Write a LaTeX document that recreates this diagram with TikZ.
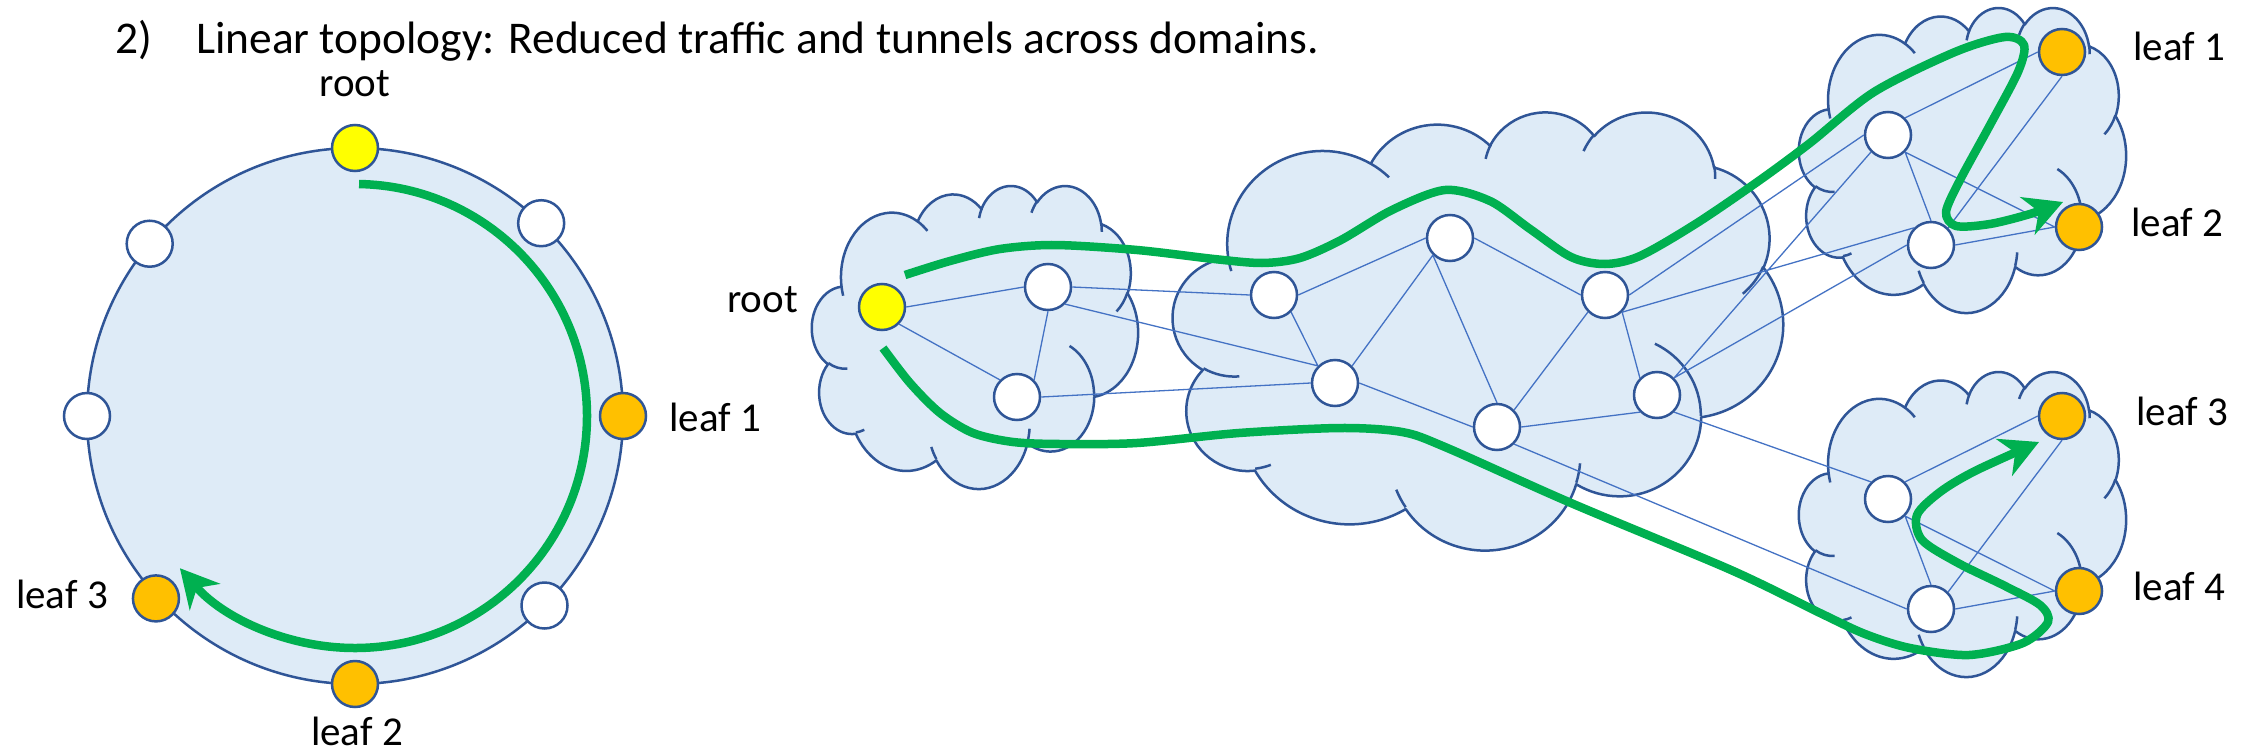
\documentclass[tikz,border=0pt]{standalone}
\usepackage{fontspec}
\setmainfont{Carlito}
\usetikzlibrary{arrows.meta}

\definecolor{skyfill}{HTML}{DEEBF7}
\definecolor{navy}{HTML}{2F5597}
\definecolor{linkblue}{HTML}{4472C4}
\definecolor{flowgreen}{HTML}{00B050}
\definecolor{rootyellow}{HTML}{FFFF00}
\definecolor{leaforange}{HTML}{FFC000}

\tikzset{
  % elliptical arc given by its visual start angle and sweep (cloud outline geometry)
  carc/.style n args={4}{insert path={arc[x radius=#1, y radius=#2,
      start angle={pa(#3,#1,#2)},
      delta angle={mod(pa(#3+#4,#1,#2)-pa(#3,#1,#2)+720,360)}]}},
  cloudbody/.style={fill=skyfill, draw=navy, line width=2.5pt, line join=round},
  cloudfold/.style={draw=navy, line width=2.5pt},
  dev/.style={circle, draw=navy, line width=2.5pt, fill=white, minimum size=46pt, inner sep=0pt},
  rootdev/.style={dev, fill=rootyellow},
  leafdev/.style={dev, fill=leaforange},
  link/.style={draw=linkblue, line width=1.3pt},
  flow/.style={draw=flowgreen, line width=8.5pt, line join=round},
  flowtip/.style={-{Stealth[length=38pt, width=40pt, inset=12pt]}},
  lbl/.style={inner sep=0pt, font=\fontsize{41}{49}\selectfont},
  ttl/.style={inner sep=0pt, anchor=base west, font=\fontsize{45.4}{54}\selectfont},
}

% cloud in a 432 x 432 design box, placed at (x0,y0) with width W and height H
\newcommand\cloudat[4]{%
  \begin{scope}[shift={(#1,#2)}, x={(#3/432,0)}, y={(0,#4/432)}]
    \path[cloudbody] (39.00,143.70)
      [carc={67.53}{91.90}{-190.4875}{123.7805}]
      [carc={53.33}{72.67}{-144.1024}{89.9452}]
      [carc={43.65}{59.45}{-145.8079}{99.7230}]
      [carc={48.57}{65.95}{-130.9861}{117.2417}]
      [carc={53.33}{72.73}{-78.7089}{109.0269}]
      [carc={67.75}{92.20}{-46.2673}{130.2690}]
      [carc={57.85}{78.67}{0.6250}{114.0333}]
      [carc={67.52}{92.15}{22.4516}{115.1726}]
      [carc={77.20}{105.43}{66.2426}{75.7110}]
      [carc={43.60}{59.18}{-274.9421}{146.7356}]
      [carc={43.45}{59.45}{-246.8285}{152.5189}]
      -- cycle;
    \path[cloudfold]
      (46.93,261.77) [carc={43.45}{59.45}{86.7420}{26.4295}]
      (69.28,348.99) [carc={43.60}{59.18}{73.6105}{11.4475}]
      (164.78,390.90) [carc={67.52}{92.15}{137.6242}{14.0811}]
      (288.27,347.51) [carc={67.52}{92.15}{6.4533}{15.9984}]
      (341.29,229.54) [carc={57.85}{78.67}{-70.2924}{70.9174}]
      (417.98,153.54) [carc={53.33}{72.73}{30.3180}{27.7515}]
      (383.24,54.26) [carc={48.57}{65.95}{-13.7443}{14.8589}]
      (290.78,39.52) [carc={48.57}{65.95}{-149.1815}{18.1954}]
      (221.41,47.20) [carc={43.65}{59.45}{-163.4943}{17.6864}]
      (140.00,51.92) [carc={67.53}{91.90}{-66.7070}{12.3194}]
      (41.27,157.89) [carc={67.53}{91.90}{157.6544}{11.8582}];
  \end{scope}}

\begin{document}
\begin{tikzpicture}[x=1pt, y=-1pt,
  declare function={pa(\ang,\rx,\ry)=atan2(\rx*sin(\ang),\ry*cos(\ang));}]
\useasboundingbox (0,0) rectangle (2256,752);
\fill[white] (0,0) rectangle (2256,752);

% ---------- headings ----------
\node[ttl] (num1) at (115,-8) {1)};
\node[ttl] (head1) at (196,-8) {Ring topology:};
\node[ttl] (num2) at (115,54) {2)};
\node[ttl] (head2) at (196,54) {Linear topology: Reduced traffic and tunnels across domains.};

% ---------- ring ----------
\coordinate (ringc) at (355,416);
\fill[skyfill] (ringc) circle[radius=268];
\draw[navy, line width=2.5pt] (ringc) circle[radius=268];
\draw[flow, flowtip] ([shift={(-89:232)}]ringc) arc[start angle=-89, end angle=139, radius=232];

\node[rootdev] (rroot) at ([shift={(-90:268)}]ringc) {};
\node[dev] (rur) at ([shift={(-46:268)}]ringc) {};
\node[leafdev] (rleafA) at ([shift={(0:268)}]ringc) {};
\node[dev] (rlr) at ([shift={(45:268)}]ringc) {};
\node[leafdev] (rleafB) at ([shift={(90:268)}]ringc) {};
\node[leafdev] (rleafC) at ([shift={(137.5:270)}]ringc) {};
\node[dev] (rleft) at ([shift={(180:268)}]ringc) {};
\node[dev] (rul) at ([shift={(-140:268)}]ringc) {};

\node[lbl, anchor=base] (troot) at (355,96) {root};
\node[lbl, anchor=base west] (tleafA) at (669,431) {leaf 1};
\node[lbl, anchor=base] (tleafB) at (357,745) {leaf 2};
\node[lbl, anchor=base east] (tleafC) at (108,608) {leaf 3};

% ---------- domains ----------
\cloudat{812}{185}{326}{303}
\cloudat{1173}{111}{610}{438}
\cloudat{1799}{7}{327}{305}
\cloudat{1799}{371}{327}{305}

\node[rootdev] (root) at (882,307) {};
\node[dev] (a1) at (1048,287) {};
\node[dev] (a2) at (1017,397) {};
\node[dev] (b1) at (1274,295) {};
\node[dev] (b2) at (1450,238) {};
\node[dev] (b3) at (1605,295) {};
\node[dev] (b4) at (1335,383) {};
\node[dev] (b5) at (1497,427) {};
\node[dev] (b6) at (1657,395) {};
\node[dev] (c1) at (1888,135) {};
\node[dev] (c2) at (1931,245) {};
\node[leafdev] (leaf1) at (2062,52) {};
\node[leafdev] (leaf2) at (2079,227) {};
\node[dev] (d1) at (1888,499) {};
\node[dev] (d2) at (1931,609) {};
\node[leafdev] (leaf3) at (2062,416) {};
\node[leafdev] (leaf4) at (2079,591) {};

\node[lbl, anchor=base east] (troot2) at (798,312) {root};
\node[lbl, anchor=base west] (tleaf1) at (2133,61) {leaf 1};
\node[lbl, anchor=base west] (tleaf2) at (2131,236) {leaf 2};
\node[lbl, anchor=base west] (tleaf3) at (2136,425) {leaf 3};
\node[lbl, anchor=base west] (tleaf4) at (2133,600) {leaf 4};

% ---------- links ----------
\path[link]
  (root.east) -- (a1.west)
  (root.south east) -- (a2.north west)
  (a1.south) -- (a2.north east)
  (a1.east) -- (b1.west)
  (a1.south east) -- (b4.north west)
  (a2.east) -- (b4.west)
  (b1.east) -- (b2.west)
  (b1.south east) -- (b4.north west)
  (b2.south west) -- (b4.north east)
  (b2.south west) -- (b5.north)
  (b2.east) -- (b3.west)
  (b3.south west) -- (b5.north east)
  (b3.south east) -- (b6.north west)
  (b4.east) -- (b5.west)
  (b5.east) -- (b6.south west)
  (b3.east) -- (c1.west)
  (b3.south east) -- (c2.north west)
  (b6.north east) -- (c1.south west)
  (b6.north east) -- (c2.west)
  (b6.south east) -- (d1.north west)
  (b5.south east) -- (d2.west)
  (c1.north east) -- (leaf1.west)
  (c1.south east) -- (leaf2.west)
  (c1.south east) -- (c2.north)
  (c2.north east) -- (leaf1.south)
  (c2.east) -- (leaf2.west)
  (d1.north east) -- (leaf3.west)
  (d1.south east) -- (leaf4.west)
  (d1.south east) -- (d2.north)
  (d2.north east) -- (leaf3.south)
  (d2.east) -- (leaf4.west);

% ---------- multicast tunnels ----------
\draw[flow, flowtip] plot[smooth, tension=0.5] coordinates {
  (905,275) (950,261) (1000,249) (1055,245) (1137,250) (1214,259) (1262,263)
  (1300,258) (1341,240) (1392,210) (1445,190) (1490,201) (1530,229) (1571,257)
  (1605,264) (1640,256) (1697,223) (1760,180) (1810,143) (1874,92) (1955,52)
  (2005,37) (2024,45) (2018,72) (1990,125) (1960,180) (1946,212) (1956,226)
  (1990,224) (2030,214) (2063,202)};
\draw[flow, flowtip] plot[smooth, tension=0.5] coordinates {
  (883,348) (910,383) (940,413) (973,433) (1013,442) (1060,444) (1137,443)
  (1239,433) (1341,428) (1402,432) (1445,447) (1571,503) (1731,570) (1820,613)
  (1865,634) (1910,648) (1969,655) (2023,643) (2048,622) (2040,605) (2005,586)
  (1958,563) (1922,540) (1917,515) (1940,492) (1975,471) (2039,442)};
\end{tikzpicture}
\end{document}
